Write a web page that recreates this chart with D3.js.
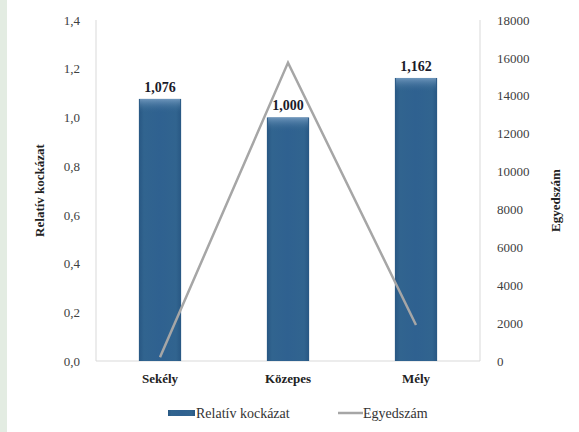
<!DOCTYPE html>
<html>
<head>
<meta charset="utf-8">
<script src="https://cdn.jsdelivr.net/npm/d3@7"></script>
<style>
  html, body { margin: 0; padding: 0; background: #fff; }
  svg { display: block; }
</style>
</head>
<body>
<svg id="chart" width="579" height="432"></svg>
<script>
// Mélységi kategóriák, relatív kockázat és egyedszám
const categories = ["Sekély", "Közepes", "Mély"];
const riskValues = [1.076, 1.000, 1.162];
const riskLabels = ["1,076", "1,000", "1,162"];
const countValues = [200, 15750, 1900];
const leftTicks = [0, 0.2, 0.4, 0.6, 0.8, 1.0, 1.2, 1.4];
const rightTicks = [0, 2000, 4000, 6000, 8000, 10000, 12000, 14000, 16000, 18000];

const FONT = "'Liberation Serif', 'Times New Roman', Times, 'Noto Serif', 'DejaVu Serif', 'FreeSerif', serif";

const svg = d3.select("#chart");
const W = 579, H = 432;
const m = { left: 96, right: 99, top: 20, bottom: 71 };
const pw = W - m.left - m.right;
const ph = H - m.top - m.bottom;

// left decorative strip
svg.append("rect").attr("x", 0).attr("y", 0).attr("width", 7).attr("height", H).attr("fill", "#e3ece2");

const defs = svg.append("defs");
const grad = defs.append("linearGradient").attr("id", "barGrad").attr("x1", 0).attr("x2", 1).attr("y1", 0).attr("y2", 0);
grad.append("stop").attr("offset", "0%").attr("stop-color", "#285783");
grad.append("stop").attr("offset", "12%").attr("stop-color", "#31648f");
grad.append("stop").attr("offset", "50%").attr("stop-color", "#2f6190");
grad.append("stop").attr("offset", "88%").attr("stop-color", "#31648f");
grad.append("stop").attr("offset", "100%").attr("stop-color", "#285783");
const topGrad = defs.append("linearGradient").attr("id", "topGrad").attr("x1", 0).attr("x2", 0).attr("y1", 0).attr("y2", 1);
topGrad.append("stop").attr("offset", "0%").attr("stop-color", "#7ea3c7");
topGrad.append("stop").attr("offset", "100%").attr("stop-color", "#31648f").attr("stop-opacity", 0);

const g = svg.append("g").attr("transform", `translate(${m.left},${m.top})`);

const x = d3.scaleBand().domain(categories).range([0, pw]).paddingInner(0.67).paddingOuter(0.335);
const yL = d3.scaleLinear().domain([0, 1.4]).range([ph, 0]);
const yR = d3.scaleLinear().domain([0, 18000]).range([ph, 0]);

// plot frame lines
g.append("line").attr("x1", 0).attr("x2", 0).attr("y1", 0).attr("y2", ph).attr("stroke", "#d9d9d9");
g.append("line").attr("x1", pw).attr("x2", pw).attr("y1", 0).attr("y2", ph).attr("stroke", "#d9d9d9");
g.append("line").attr("x1", 0).attr("x2", pw).attr("y1", ph).attr("y2", ph).attr("stroke", "#d9d9d9");

// axes
const fmtL = d => d3.format(".1f")(d).replace(".", ",");
const axL = g.append("g").call(d3.axisLeft(yL).tickValues(leftTicks).tickFormat(fmtL).tickSize(0).tickPadding(16));
axL.select(".domain").remove();
axL.selectAll("text").style("font-family", FONT).style("font-size", "13px").attr("fill", "#404040");

const axR = g.append("g").attr("transform", `translate(${pw},0)`)
  .call(d3.axisRight(yR).tickValues(rightTicks).tickFormat(d3.format("d")).tickSize(0).tickPadding(17));
axR.select(".domain").remove();
axR.selectAll("text").style("font-family", FONT).style("font-size", "13px").attr("fill", "#404040");

const axX = g.append("g").attr("transform", `translate(0,${ph})`).call(d3.axisBottom(x).tickSize(0).tickPadding(13));
axX.select(".domain").remove();
axX.selectAll("text").style("font-family", FONT).style("font-size", "13px").style("font-weight", "bold").attr("fill", "#222");

// bars
const bars = g.selectAll(".bar").data(categories).enter().append("g");
bars.append("rect")
  .attr("x", d => x(d)).attr("width", x.bandwidth())
  .attr("y", (d, i) => yL(riskValues[i])).attr("height", (d, i) => ph - yL(riskValues[i]))
  .attr("fill", "url(#barGrad)");
bars.append("rect")
  .attr("x", d => x(d) + 1).attr("width", x.bandwidth() - 2)
  .attr("y", (d, i) => yL(riskValues[i])).attr("height", 14)
  .attr("fill", "url(#topGrad)").attr("opacity", 0.8);

// value labels
g.selectAll(".vlab").data(categories).enter().append("text")
  .attr("x", d => x(d) + x.bandwidth() / 2)
  .attr("y", (d, i) => yL(riskValues[i]) - 7)
  .attr("text-anchor", "middle")
  .style("font-family", FONT).style("font-size", "14px").style("font-weight", "bold").attr("fill", "#1a1a2a")
  .text((d, i) => riskLabels[i]);

// count line
const line = d3.line().x((d, i) => x(categories[i]) + x.bandwidth() / 2).y(d => yR(d));
g.append("path").datum(countValues).attr("d", line)
  .attr("fill", "none").attr("stroke", "#a6a6a6").attr("stroke-width", 2.5);

// axis titles
svg.append("text").attr("transform", `translate(44,${m.top + ph / 2}) rotate(-90)`)
  .attr("text-anchor", "middle").style("font-family", FONT).style("font-size", "13px").style("font-weight", "bold").attr("fill", "#222")
  .text("Relatív kockázat");
svg.append("text").attr("transform", `translate(560,${m.top + ph / 2 + 10}) rotate(-90)`)
  .attr("text-anchor", "middle").style("font-family", FONT).style("font-size", "13px").style("font-weight", "bold").attr("fill", "#222")
  .text("Egyedszám");

// legend
const lg = svg.append("g").attr("transform", "translate(168,413)");
lg.append("rect").attr("x", 0).attr("y", -3).attr("width", 27).attr("height", 6).attr("fill", "url(#barGrad)");
lg.append("text").attr("x", 28).attr("y", 5).style("font-family", FONT).style("font-size", "14px").attr("fill", "#333").text("Relatív kockázat");
lg.append("line").attr("x1", 170).attr("x2", 195).attr("y1", 0).attr("y2", 0).attr("stroke", "#a6a6a6").attr("stroke-width", 2.5);
lg.append("text").attr("x", 195).attr("y", 5).style("font-family", FONT).style("font-size", "14px").attr("fill", "#333").text("Egyedszám");
</script>
</body>
</html>
